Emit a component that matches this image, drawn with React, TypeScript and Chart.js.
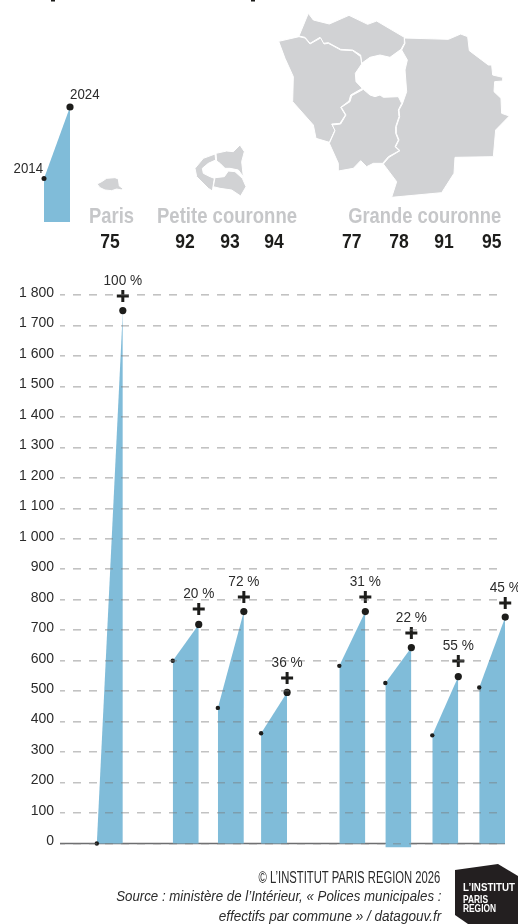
import React, { useEffect, useRef } from "react";
import { Chart, registerables } from "chart.js";

Chart.register(...registerables);

// ---------- data ----------
const departments = ["75", "92", "93", "94", "77", "78", "91", "95"];
const groupNames = ["Paris", "Petite couronne", "Grande couronne"];
const values2014 = [0, 600, 445, 362, 583, 527, 355, 512];
const values2024 = [1749, 719, 761, 496, 761, 643, 548, 743];
const peakValues = [1797, 770, 809, 543, 809, 691, 599, 789];
const growthLabels = ["100 %", "20 %", "72 %", "36 %", "31 %", "22 %", "55 %", "45 %"];
const baseValues = [0, 0, 0, 0, 0, -12, 0, 0];
const slotStart = [0.8, 2.45, 3.43, 4.37, 6.07, 7.07, 8.09, 9.11];
const legendYears = ["2014", "2024"];
const legendValues = [43.5, 115];

const INK = "#1d1d1b";
const BLUE = "#80bcd9";
const GREY = "#d1d2d4";
const SLOT_WIDTH = 0.565;
const SANS = '"Liberation Sans", Arial, sans-serif';

// Decorative map outlines, in 3x-zoomed page units
const mapOutlines: number[][] = [
  [897,108,925,40,940,60,988,72,1047,46,1103,73,1130,63,1213,112,1213,130,1203,148,1170,172,1140,165,1110,172,1085,190,1082,165,1058,150,1022,148,985,128,970,130,960,112,930,130,915,112],
  [836,124,897,110,915,114,930,132,962,114,972,132,985,130,1022,150,1058,152,1082,170,1085,192,1066,220,1068,245,1087,265,1052,285,1047,303,1022,322,1036,345,1020,370,995,372,1005,390,988,427,948,415,940,375,878,305,880,230,855,175],
  [1090,268,1110,285,1125,290,1140,285,1150,292,1195,290,1205,310,1195,330,1197,350,1187,380,1187,400,1195,420,1185,440,1198,452,1165,470,1148,490,1120,490,1100,500,1082,482,1060,505,1015,513,1015,490,988,430,1005,392,997,375,1022,372,1038,345,1024,322,1050,305,1055,287],
  [1213,114,1345,118,1382,102,1403,110,1408,152,1465,195,1475,195,1478,225,1508,232,1508,243,1484,245,1482,275,1503,295,1505,340,1528,348,1487,390,1480,470,1365,472,1362,520,1325,578,1175,592,1190,545,1150,492,1167,472,1200,452,1187,440,1197,420,1189,400,1189,380,1199,350,1197,330,1207,312,1220,275,1215,210,1222,180,1205,150,1215,130],
  [291,552,305,545,320,535,345,533,355,537,358,558,368,565,365,570,350,567,335,572,315,570,300,563],
  [645,462,647,480,625,490,607,505,610,520,630,530,643,535,637,573,625,565,590,530,585,505,610,475],
  [648,460,680,453,700,455,720,435,733,455,725,485,730,530,715,510,690,505,675,505,660,490,650,483],
  [645,533,673,530,685,513,705,515,727,535,738,560,722,588,695,570,660,565,640,560],
];
const departmentCentres = [110, 185, 230, 274, 351.7, 399, 444, 491.7];

function drawPolys(ctx: CanvasRenderingContext2D) {
  ctx.save();
  ctx.fillStyle = GREY;
  ctx.strokeStyle = "#fff";
  ctx.lineWidth = 1;
  mapOutlines.forEach((p) => {
    ctx.beginPath();
    for (let i = 0; i < p.length; i += 2) {
      const x = p[i] / 3, y = p[i + 1] / 3;
      if (i === 0) ctx.moveTo(x, y); else ctx.lineTo(x, y);
    }
    ctx.closePath();
    ctx.fill();
    ctx.stroke();
  });
  ctx.restore();
}

function txt(ctx: CanvasRenderingContext2D, s: string, x: number, y: number, font: string, color: string, align: CanvasTextAlign = "center", maxW?: number) {
  ctx.font = font;
  ctx.fillStyle = color;
  ctx.textAlign = align;
  ctx.textBaseline = "alphabetic";
  if (maxW) ctx.fillText(s, x, y, maxW); else ctx.fillText(s, x, y);
}

const mainPlugin = {
  id: "mainDecor",
  beforeDraw(chart: any) {
    const ctx = chart.ctx;
    drawPolys(ctx);
    ctx.save();
    const bold = `bold 22px ${SANS}`;
    const num = `bold 20px ${SANS}`;
    txt(ctx, groupNames[0], 111.5, 222.7, bold, "#c6c7c9", "center", 45);
    txt(ctx, groupNames[1], 227, 222.7, bold, "#c6c7c9", "center", 140);
    txt(ctx, groupNames[2], 424.7, 222.7, bold, "#c6c7c9", "center", 153);
    departments.forEach((d, i) => txt(ctx, d, departmentCentres[i], 248.3, num, INK, "center", 19.5));
    ctx.fillStyle = INK;
    ctx.fillRect(51, 0, 4, 1.5);
    ctx.fillRect(251, 0, 4, 1.5);
    ctx.restore();
  },
  afterDatasetsDraw(chart: any) {
    const ctx = chart.ctx;
    const xs = chart.scales.x, ys = chart.scales.y;
    ctx.save();
    const font = `15px ${SANS}`;
    growthLabels.forEach((l, i) => {
      const x = xs.getPixelForValue(slotStart[i] + SLOT_WIDTH);
      const y = ys.getPixelForValue(peakValues[i]);
      ctx.font = font;
      const w = ctx.measureText(l).width * 0.91;
      txt(ctx, l, x, y - 11, font, "#2b2b2b", "center", w);
    });
    ctx.restore();
  },
};

const legendPlugin = {
  id: "legendLabels",
  afterDatasetsDraw(chart: any) {
    const ctx = chart.ctx;
    const xs = chart.scales.x, ys = chart.scales.y;
    ctx.save();
    const font = `14px ${SANS}`;
    txt(ctx, legendYears[0], xs.getPixelForValue(0) - 1, ys.getPixelForValue(legendValues[0]) - 5.5, font, "#2b2b2b", "right", 29.5);
    txt(ctx, legendYears[1], xs.getPixelForValue(1), ys.getPixelForValue(legendValues[1]) - 8.3, font, "#2b2b2b", "left", 29.5);
    ctx.restore();
  },
};

export default function App() {
  const mainRef = useRef<HTMLCanvasElement>(null);
  const legendRef = useRef<HTMLCanvasElement>(null);

  useEffect(() => {
    document.body.style.margin = "0";
    const wedges = departments.map((d, i) => ({
      type: "line",
      label: d,
      data: [
        { x: slotStart[i], y: values2014[i] },
        { x: slotStart[i] + SLOT_WIDTH, y: values2024[i] },
      ],
      backgroundColor: BLUE,
      borderWidth: 0,
      borderColor: BLUE,
      fill: { value: baseValues[i] },
      tension: 0,
      pointRadius: [2.2, 3.6],
      pointBackgroundColor: INK,
      pointBorderWidth: 0,
      clip: false,
      order: 2,
    }));
    const main = new Chart(mainRef.current!, {
      type: "line",
      data: {
        datasets: [
          {
            type: "line",
            label: "axe",
            data: [{ x: 0, y: 0 }, { x: 9.67, y: 0 }],
            borderColor: "#6d6e70",
            borderWidth: 1.5,
            pointRadius: 0,
            order: 3,
          },
          ...wedges,
          {
            type: "scatter",
            label: "plus",
            data: peakValues.map((v, i) => ({ x: slotStart[i] + SLOT_WIDTH, y: v })),
            pointStyle: "cross",
            pointRadius: 6,
            pointBorderWidth: 3,
            pointBorderColor: INK,
            borderColor: INK,
            backgroundColor: INK,
            clip: false,
            order: 1,
          },
        ] as any,
      },
      options: {
        animation: false,
        responsive: false,
        layout: { autoPadding: false, padding: { top: 295, bottom: 50, left: 0, right: 13 } },
        plugins: { legend: { display: false }, tooltip: { enabled: false }, title: { display: false } },
        scales: {
          x: { type: "linear", min: 0, max: 9.67, display: false },
          y: {
            type: "linear",
            min: -100,
            max: 1800,
            afterFit: (s: any) => { s.width = 60; },
            afterBuildTicks: (s: any) => { s.ticks = s.ticks.filter((t: any) => t.value >= 0); },
            ticks: {
              stepSize: 100,
              padding: 6,
              labelOffset: -2,
              color: "#2b2b2b",
              font: { family: SANS, size: 14 },
              callback: (v: any) => (Number(v) >= 1000 ? `${Math.floor(Number(v) / 1000)} ${String(Number(v) % 1000).padStart(3, "0")}` : String(v)),
            },
            grid: { color: "rgba(120,120,120,0.45)", lineWidth: 1.6, drawTicks: false, z: 1 },
            border: { display: false, dash: [8, 8], dashOffset: 3 },
          },
        },
      } as any,
      plugins: [mainPlugin],
    } as any);

    const legend = new Chart(legendRef.current!, {
      type: "line",
      data: {
        datasets: [
          {
            label: "légende",
            data: [{ x: 0, y: legendValues[0] }, { x: 1, y: legendValues[1] }],
            backgroundColor: BLUE,
            borderWidth: 0,
            fill: "origin",
            pointRadius: [2.5, 3.6],
            pointBackgroundColor: INK,
            pointBorderWidth: 0,
            clip: false,
          },
        ],
      },
      options: {
        animation: false,
        responsive: false,
        layout: { autoPadding: false, padding: { left: 44, right: 48, top: 0, bottom: 0 } },
        plugins: { legend: { display: false }, tooltip: { enabled: false } },
        scales: {
          x: { type: "linear", min: 0, max: 1, display: false },
          y: { type: "linear", min: 0, max: 142, display: false },
        },
      } as any,
      plugins: [legendPlugin],
    } as any);

    return () => { main.destroy(); legend.destroy(); };
  }, []);

  const foot: React.CSSProperties = {
    position: "absolute", right: 76.5, whiteSpace: "nowrap", fontFamily: SANS, color: "#2b2b2b", fontSize: 14.5, lineHeight: "19px",
    transformOrigin: "right center",
  };

  return (
    <div style={{ position: "relative", width: 518, height: 924, overflow: "hidden", background: "#fff" }}>
      <canvas ref={mainRef} width={518} height={924} style={{ position: "absolute", left: 0, top: 0 }} />
      <canvas ref={legendRef} width={118} height={142} style={{ position: "absolute", left: 0, top: 80 }} />
      <div style={{ ...foot, top: 868, right: 77.5, fontSize: 16, transform: "scaleX(0.704)" }}>© L’INSTITUT PARIS REGION 2026</div>
      <div style={{ ...foot, top: 887, fontStyle: "italic", transform: "scaleX(0.915)" }}>Source : ministère de l’Intérieur, « Polices municipales :</div>
      <div style={{ ...foot, top: 906.5, fontStyle: "italic", transform: "scaleX(0.934)" }}>effectifs par commune » / datagouv.fr</div>
      <svg width={518} height={924} style={{ position: "absolute", left: 0, top: 0, pointerEvents: "none" }}>
        <polygon points="455,870 498,864 518,876 518,924 468,924 455,915" fill="#231f20" />
        <text x={463} y={891} fill="#fff" fontFamily={SANS} fontWeight="bold" fontSize={11} textLength={52} lengthAdjust="spacingAndGlyphs">L’INSTITUT</text>
        <text x={463} y={903} fill="#fff" fontFamily={SANS} fontWeight="bold" fontSize={10} textLength={25} lengthAdjust="spacingAndGlyphs">PARIS</text>
        <text x={463} y={912} fill="#fff" fontFamily={SANS} fontWeight="bold" fontSize={10} textLength={33} lengthAdjust="spacingAndGlyphs">REGION</text>
      </svg>
    </div>
  );
}
